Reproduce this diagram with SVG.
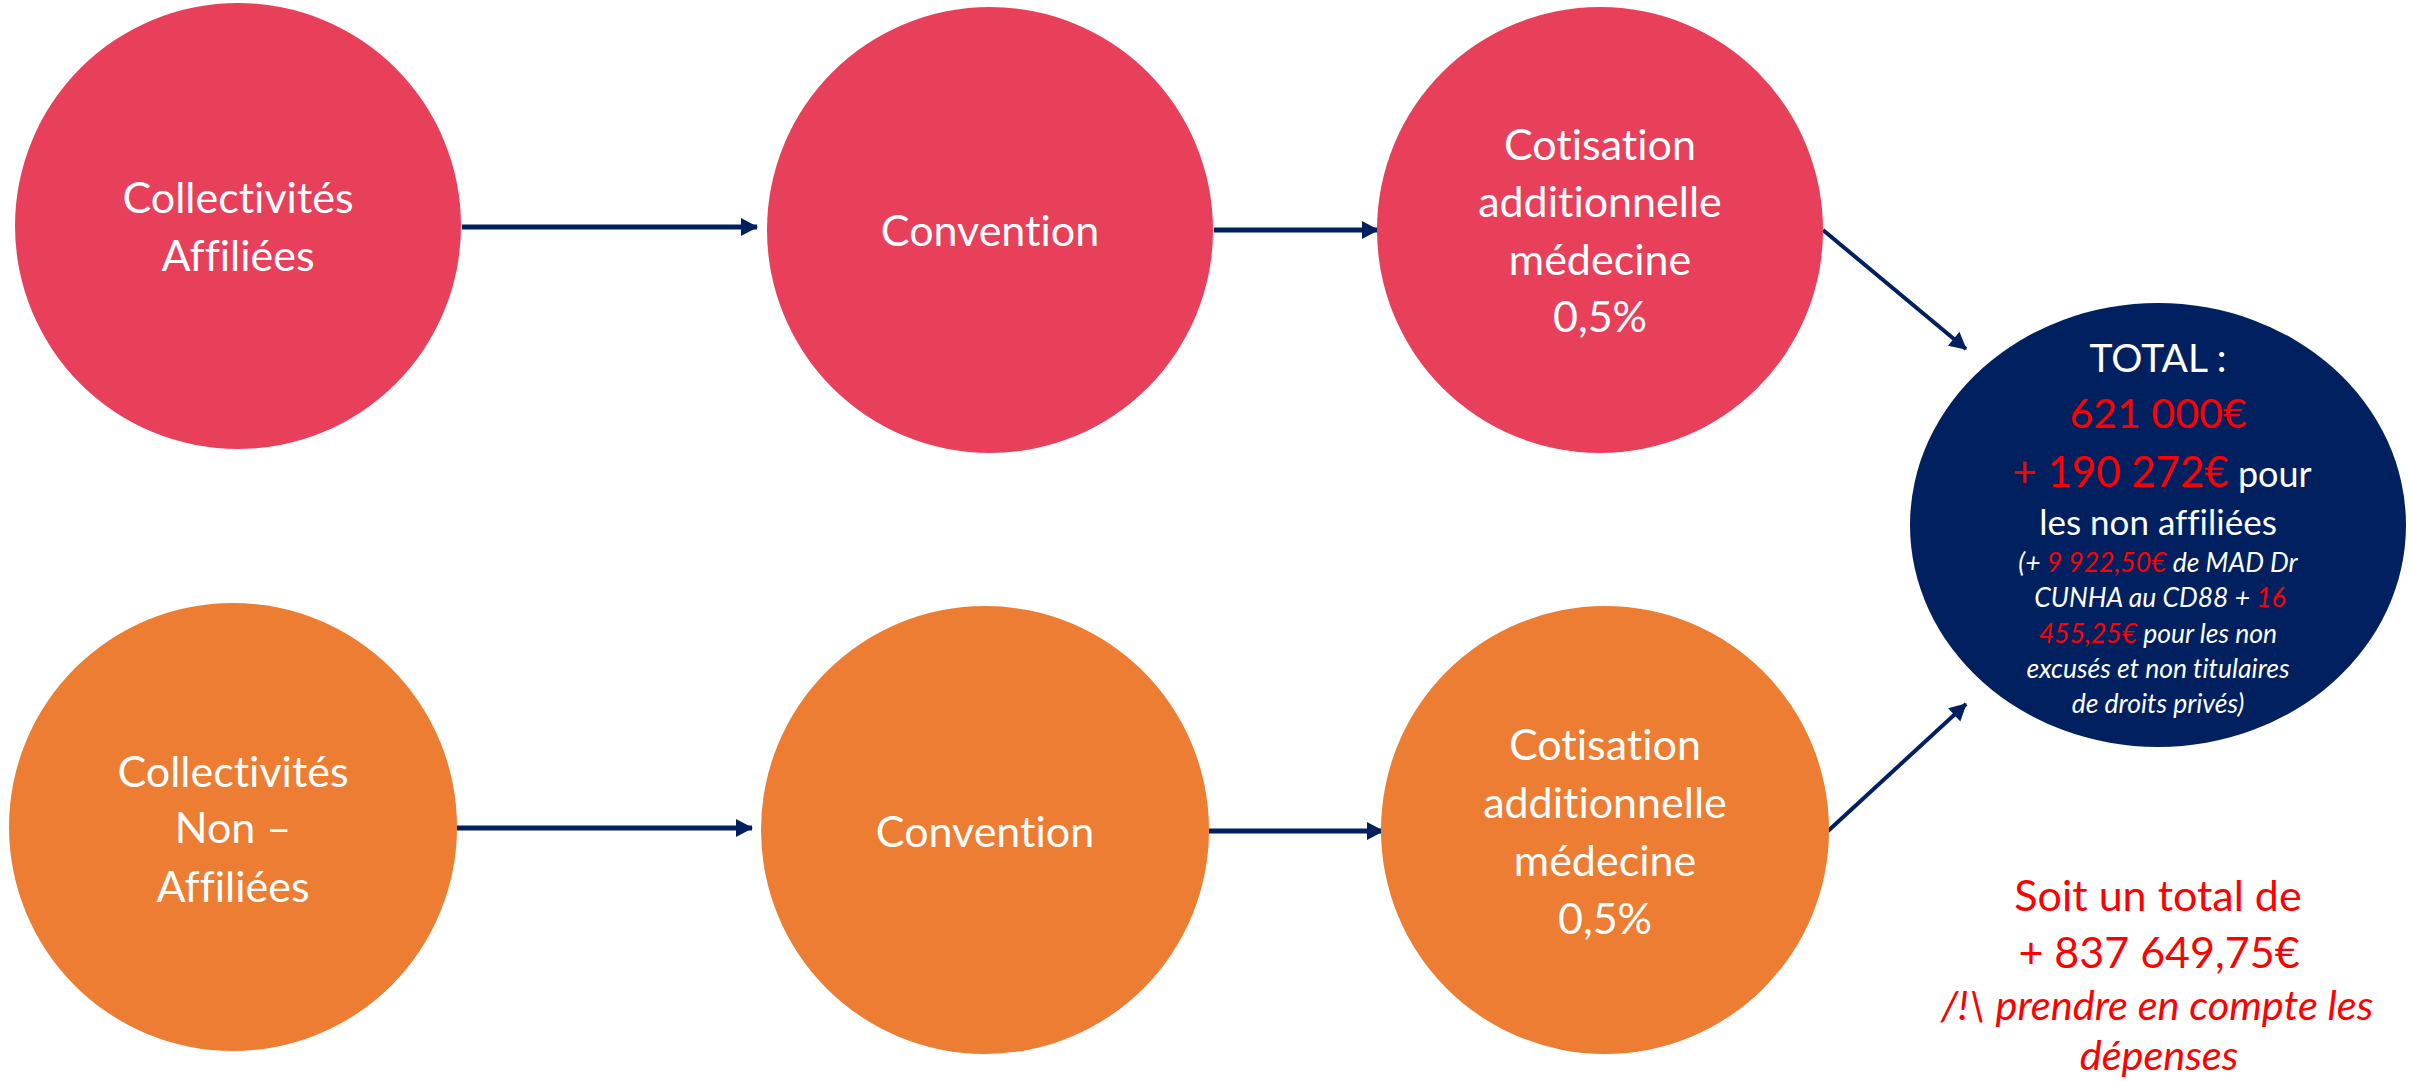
<svg xmlns="http://www.w3.org/2000/svg" width="2412" height="1081" viewBox="0 0 2412 1081">
  <defs>
    <marker id="head" markerUnits="userSpaceOnUse" markerWidth="20" markerHeight="20" viewBox="0 0 20 20" refX="18" refY="10" orient="auto">
      <path d="M2,1 L19,10 L2,19 Z" fill="#002060"/>
    </marker>
    <style>
      text { font-variant-ligatures: none; font-feature-settings: "liga" 0, "dlig" 0; }
      .lbl { font-family: Lato, "Open Sans", "Liberation Sans", sans-serif; fill: #ffffff; text-anchor: middle; }
      .node { font-size: 43px; }
      .pink { fill: #E8405B; }
      .orange { fill: #ED7D32; }
      .navy { fill: #002060; }
      .red { fill: #FF0000; }
      .conn { stroke: #002060; stroke-width: 5; fill: none; marker-end: url(#head); }
      .diag { stroke-width: 4; }
      .note { font-family: Lato, "Open Sans", "Liberation Sans", sans-serif; fill: #FF0000; text-anchor: middle; }
    </style>
  </defs>

  <!-- connectors -->
  <g id="connectors">
    <line class="conn" x1="462" y1="227" x2="757" y2="227"/>
    <line class="conn" x1="1214" y1="230" x2="1378" y2="230"/>
    <line class="conn diag" x1="1823" y1="230" x2="1966" y2="349"/>
    <line class="conn" x1="457" y1="828" x2="752" y2="828"/>
    <line class="conn" x1="1209" y1="831" x2="1383" y2="831"/>
    <line class="conn diag" x1="1828" y1="831" x2="1966" y2="704"/>
  </g>

  <!-- affiliated row -->
  <g id="affiliees">
    <circle class="pink" cx="238" cy="226" r="223"/>
    <text class="lbl node" x="238" y="213">Collectivités</text>
    <text class="lbl node" x="238" y="271">Affiliées</text>
  </g>
  <g id="convention-affiliees">
    <circle class="pink" cx="990" cy="230" r="223"/>
    <text class="lbl node" x="990" y="246">Convention</text>
  </g>
  <g id="cotisation-affiliees">
    <circle class="pink" cx="1600" cy="230" r="223"/>
    <text class="lbl node" x="1600" y="160">Cotisation</text>
    <text class="lbl node" x="1600" y="217">additionnelle</text>
    <text class="lbl node" x="1600" y="275">médecine</text>
    <text class="lbl node" x="1600" y="332">0,5%</text>
  </g>

  <!-- non-affiliated row -->
  <g id="non-affiliees">
    <circle class="orange" cx="233" cy="827" r="224"/>
    <text class="lbl node" x="233" y="787">Collectivités</text>
    <text class="lbl node" x="233" y="843">Non –</text>
    <text class="lbl node" x="233" y="902">Affiliées</text>
  </g>
  <g id="convention-non-affiliees">
    <circle class="orange" cx="985" cy="830" r="224"/>
    <text class="lbl node" x="985" y="847">Convention</text>
  </g>
  <g id="cotisation-non-affiliees">
    <circle class="orange" cx="1605" cy="830" r="224"/>
    <text class="lbl node" x="1605" y="760">Cotisation</text>
    <text class="lbl node" x="1605" y="818">additionnelle</text>
    <text class="lbl node" x="1605" y="876">médecine</text>
    <text class="lbl node" x="1605" y="934">0,5%</text>
  </g>

  <!-- total -->
  <g id="total">
    <ellipse class="navy" cx="2158" cy="525" rx="248" ry="222"/>
    <text class="lbl" x="2158" y="372" font-size="39">TOTAL :</text>
    <text class="lbl" x="2158" y="428" font-size="41" style="fill:#FF0000">621 000€</text>
    <text class="lbl" x="2162" y="487" font-size="36"><tspan class="red" font-size="42">+ 190 272€</tspan> pour</text>
    <text class="lbl" x="2158" y="535" font-size="35">les non affiliées</text>
    <g font-style="italic" font-size="26.5">
      <text class="lbl" x="2158" y="572">(+ <tspan class="red">9 922,50€</tspan> de MAD Dr</text>
      <text class="lbl" x="2160" y="607">CUNHA au CD88 + <tspan class="red">16</tspan></text>
      <text class="lbl" x="2158" y="643"><tspan class="red">455,25€</tspan> pour les non</text>
      <text class="lbl" x="2158" y="678">excusés et non titulaires</text>
      <text class="lbl" x="2158" y="713">de droits privés)</text>
    </g>
  </g>

  <!-- summary note -->
  <g id="summary">
    <text class="note" x="2158" y="911" font-size="43">Soit un total de</text>
    <text class="note" x="2159" y="968" font-size="43">+ 837 649,75€</text>
    <text class="note" x="2157" y="1020" font-size="41.5" font-style="italic">/!\ prendre en compte les</text>
    <text class="note" x="2159" y="1070" font-size="41.5" font-style="italic">dépenses</text>
  </g>
</svg>
